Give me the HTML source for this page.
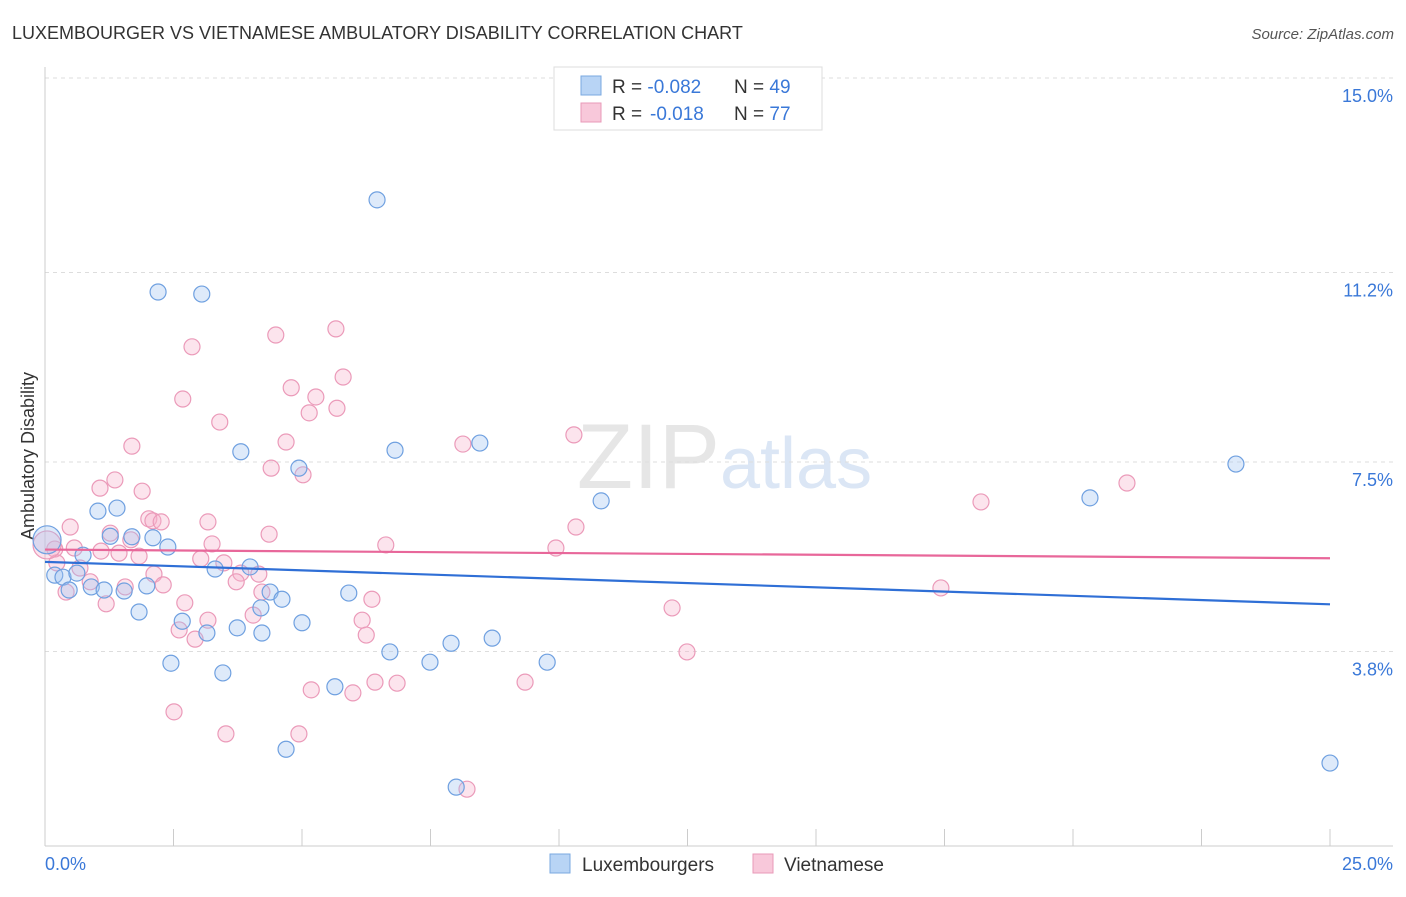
<!DOCTYPE html>
<html><head><meta charset="utf-8"><style>
body{margin:0;background:#fff;font-family:"Liberation Sans",sans-serif;}
svg text{font-family:"Liberation Sans",sans-serif;}
</style></head><body>
<svg id="chart" width="1406" height="892" viewBox="0 0 1406 892">
<text x="12" y="39" font-size="18" fill="#333">LUXEMBOURGER VS VIETNAMESE AMBULATORY DISABILITY CORRELATION CHART</text>
<text x="1394" y="39" font-size="15" fill="#555" font-style="italic" text-anchor="end">Source: ZipAtlas.com</text>
<text x="720" y="488" font-size="92" fill="#e6e6e6" text-anchor="end" font-family="Liberation Serif">ZIP</text>
<text x="720" y="488" font-size="72" fill="#dbe6f5">atlas</text>
<g id="grid"></g>
<g id="axes"></g>
<text transform="translate(34,456) rotate(-90)" font-size="18" fill="#333" text-anchor="middle">Ambulatory Disability</text>
<g id="pts"></g>
<g id="trend"></g>
<g>
<rect x="554" y="67" width="268" height="63" fill="#fff" stroke="#ddd"/>
<rect x="581" y="76" width="20" height="19" fill="#b8d4f5" stroke="#7aa8e0"/>
<rect x="581" y="103" width="20" height="19" fill="#f8c8da" stroke="#e89ab8"/>
<text x="612" y="93" font-size="19" fill="#333">R = <tspan fill="#3a78d8">-0.082</tspan><tspan x="734">N = </tspan><tspan fill="#3a78d8">49</tspan></text>
<text x="612" y="120" font-size="19" fill="#333">R = <tspan x="650" fill="#3a78d8">-0.018</tspan><tspan x="734">N = </tspan><tspan fill="#3a78d8">77</tspan></text>
</g>
<g>
<rect x="550" y="854" width="20" height="19" fill="#b8d4f5" stroke="#7aa8e0"/>
<text x="582" y="871" font-size="19" fill="#333">Luxembourgers</text>
<text x="784" y="871" font-size="19" fill="#333">Vietnamese</text>
<rect x="753" y="854" width="20" height="19" fill="#f8c8da" stroke="#e89ab8"/>
</g>
</svg>
<script>
const yTicks=[3.8,7.5,11.2,15.0];
const yTickLabels=["3.8%","7.5%","11.2%","15.0%"];
const xTickCount=10;
const xMin=0,xMax=25;
const luxX=[6.46,2.20,3.05,3.81,6.81,8.46,4.94,10.82,20.33,23.17,1.03,1.40,0.04,1.27,1.69,2.10,2.39,0.74,0.19,0.35,0.62,0.47,0.90,1.15,1.54,1.98,3.31,3.99,4.38,4.61,4.20,1.83,2.67,3.15,3.74,4.22,5.00,5.91,8.70,7.90,6.71,7.49,9.77,2.45,3.46,5.64,4.69,8.00,25.0];
const luxY=[12.62,10.82,10.78,7.70,7.73,7.87,7.38,6.74,6.80,7.46,6.54,6.60,5.98,6.05,6.04,6.02,5.84,5.68,5.29,5.25,5.33,5.00,5.06,5.00,4.98,5.08,5.41,5.45,4.96,4.82,4.65,4.57,4.39,4.16,4.26,4.16,4.36,4.94,4.06,3.96,3.79,3.59,3.59,3.57,3.38,3.11,1.89,1.15,1.62];
const vieX=[5.66,4.49,2.86,5.80,4.79,2.68,5.27,5.68,5.14,3.40,10.29,8.13,1.69,4.69,4.40,5.02,1.36,1.07,1.89,21.05,18.21,0.49,1.27,2.02,2.10,2.26,3.17,4.36,10.33,1.67,0.19,0.57,1.09,1.44,1.83,3.25,6.63,9.94,3.03,3.48,0.23,0.68,4.16,3.81,2.12,3.72,2.30,0.88,1.56,0.41,4.22,17.43,2.72,1.19,6.36,4.05,6.17,3.17,12.20,2.61,2.92,6.25,12.49,5.18,6.42,6.85,5.99,9.34,2.51,3.52,4.94,8.21,0.04];
const vieY=[10.10,9.98,9.75,9.16,8.95,8.73,8.77,8.55,8.46,8.28,8.03,7.85,7.81,7.89,7.38,7.25,7.15,6.99,6.93,7.09,6.72,6.23,6.11,6.39,6.35,6.33,6.33,6.09,6.23,5.98,5.80,5.82,5.76,5.72,5.66,5.90,5.88,5.82,5.61,5.53,5.53,5.43,5.31,5.33,5.31,5.16,5.10,5.16,5.06,4.96,4.96,5.04,4.75,4.73,4.82,4.51,4.41,4.41,4.65,4.22,4.04,4.12,3.79,3.05,3.20,3.18,2.99,3.20,2.62,2.19,2.19,1.11,5.88];
const luxTrend=[5.55,4.72];
const vieTrend=[5.79,5.62];
const X0=45,X1=1330,Y0=846,PXY=51.2;
const sx=v=>X0+(v-xMin)/(xMax-xMin)*(X1-X0);
const sy=v=>Y0-v*PXY;
const NS="http://www.w3.org/2000/svg";
function mk(t,a,p){const e=document.createElementNS(NS,t);for(const k in a)e.setAttribute(k,a[k]);p.appendChild(e);return e;}
const grid=document.getElementById('grid'),axes=document.getElementById('axes'),pts=document.getElementById('pts'),trend=document.getElementById('trend');
yTicks.forEach((t,i)=>{
 const l=mk('line',{x1:45,x2:1393,y1:sy(t),y2:sy(t),stroke:'#ddd','stroke-dasharray':'4,4'},grid);
 
 
 const tx=mk('text',{x:1393,y:sy(t)+24,'font-size':18,fill:'#3a78d8','text-anchor':'end'},grid);
 tx.textContent=yTickLabels[i];
 
 
});
const ya=mk('line',{x1:45,x2:45,y1:67,y2:846,stroke:'#ccc'},axes);


const xa=mk('line',{x1:45,x2:1393,y1:846,y2:846,stroke:'#ccc'},axes);


for(let i=0;i<=xTickCount;i++){
 const v=xMin+(xMax-xMin)*i/xTickCount;
 const tk=mk('line',{x1:sx(v),x2:sx(v),y1:829,y2:846,stroke:'#ccc'},axes);
 
 
}
const xl0=mk('text',{x:45,y:870,'font-size':18,fill:'#3a78d8'},axes);xl0.textContent=xMin.toFixed(1)+'%';


const xl1=mk('text',{x:1393,y:870,'font-size':18,fill:'#3a78d8','text-anchor':'end'},axes);xl1.textContent=xMax.toFixed(1)+'%';


vieX.forEach((x,i)=>{
 const c=mk('circle',{cx:sx(x),cy:sy(vieY[i]),r:(i===vieX.length-1?14:8),fill:'rgba(246,178,204,0.35)',stroke:'#eb9ab9','stroke-width':1.2},pts);
 
 
});
luxX.forEach((x,i)=>{
 const c=mk('circle',{cx:sx(x),cy:sy(luxY[i]),r:(i===12?14:8),fill:'rgba(160,196,240,0.35)',stroke:'#6fa0e0','stroke-width':1.2},pts);
 
 
});
const tl=mk('line',{x1:sx(xMin),x2:sx(xMax),y1:sy(luxTrend[0]),y2:sy(luxTrend[1]),stroke:'#2f6fd6','stroke-width':2.2},trend);


const tv=mk('line',{x1:sx(xMin),x2:sx(xMax),y1:sy(vieTrend[0]),y2:sy(vieTrend[1]),stroke:'#e8679a','stroke-width':2.2},trend);


</script>
</body></html>
